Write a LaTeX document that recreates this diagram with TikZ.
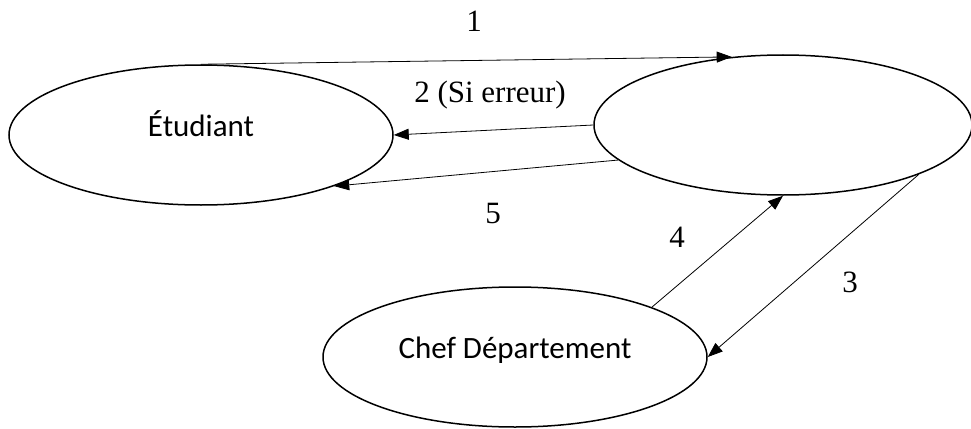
\documentclass[tikz,border=0pt]{standalone}
\usepackage{fontspec}
\setmainfont{Liberation Serif}
\newfontfamily\carlito{Carlito}
\usetikzlibrary{arrows.meta, shapes.geometric}

\begin{document}
\begin{tikzpicture}[
  x=1pt, y=-1pt,
  actor/.style={ellipse, draw, line width=1.5pt, minimum width=384pt, minimum height=140pt, inner sep=0pt, text height=0.8em, text depth=0.6em, font=\carlito\fontsize{31}{36}\selectfont},
  arrow/.style={-{Triangle[length=15pt, width=11pt]}, line width=0.8pt},
  num/.style={inner sep=0pt, font=\fontsize{31}{36}\selectfont}
]
\useasboundingbox (0,0) rectangle (971,428);

% Actors
\node[actor] (E) at (201,135) {Étudiant};
\node[actor, minimum width=378pt] (S) at (783,125) {};
\node[actor] (C) at (515,357) {Chef Département};

% Flows between actors
\draw[arrow] (E.north) -- (S.127);
\draw[arrow] (S.west) -- (E.east);
\draw[arrow] (S.-168) -- (E.-21);
\draw[arrow] (S.-20) -- (C.east);
\draw[arrow] (C.20) -- (S.south);

% Flow numbers
\node[num] (n1) at (474,21) {1};
\node[num] (n2) at (490,95) {2 (Si erreur)};
\node[num] (n3) at (850,282) {3};
\node[num] (n4) at (677,237) {4};
\node[num] (n5) at (493,213) {5};

\end{tikzpicture}
\end{document}
